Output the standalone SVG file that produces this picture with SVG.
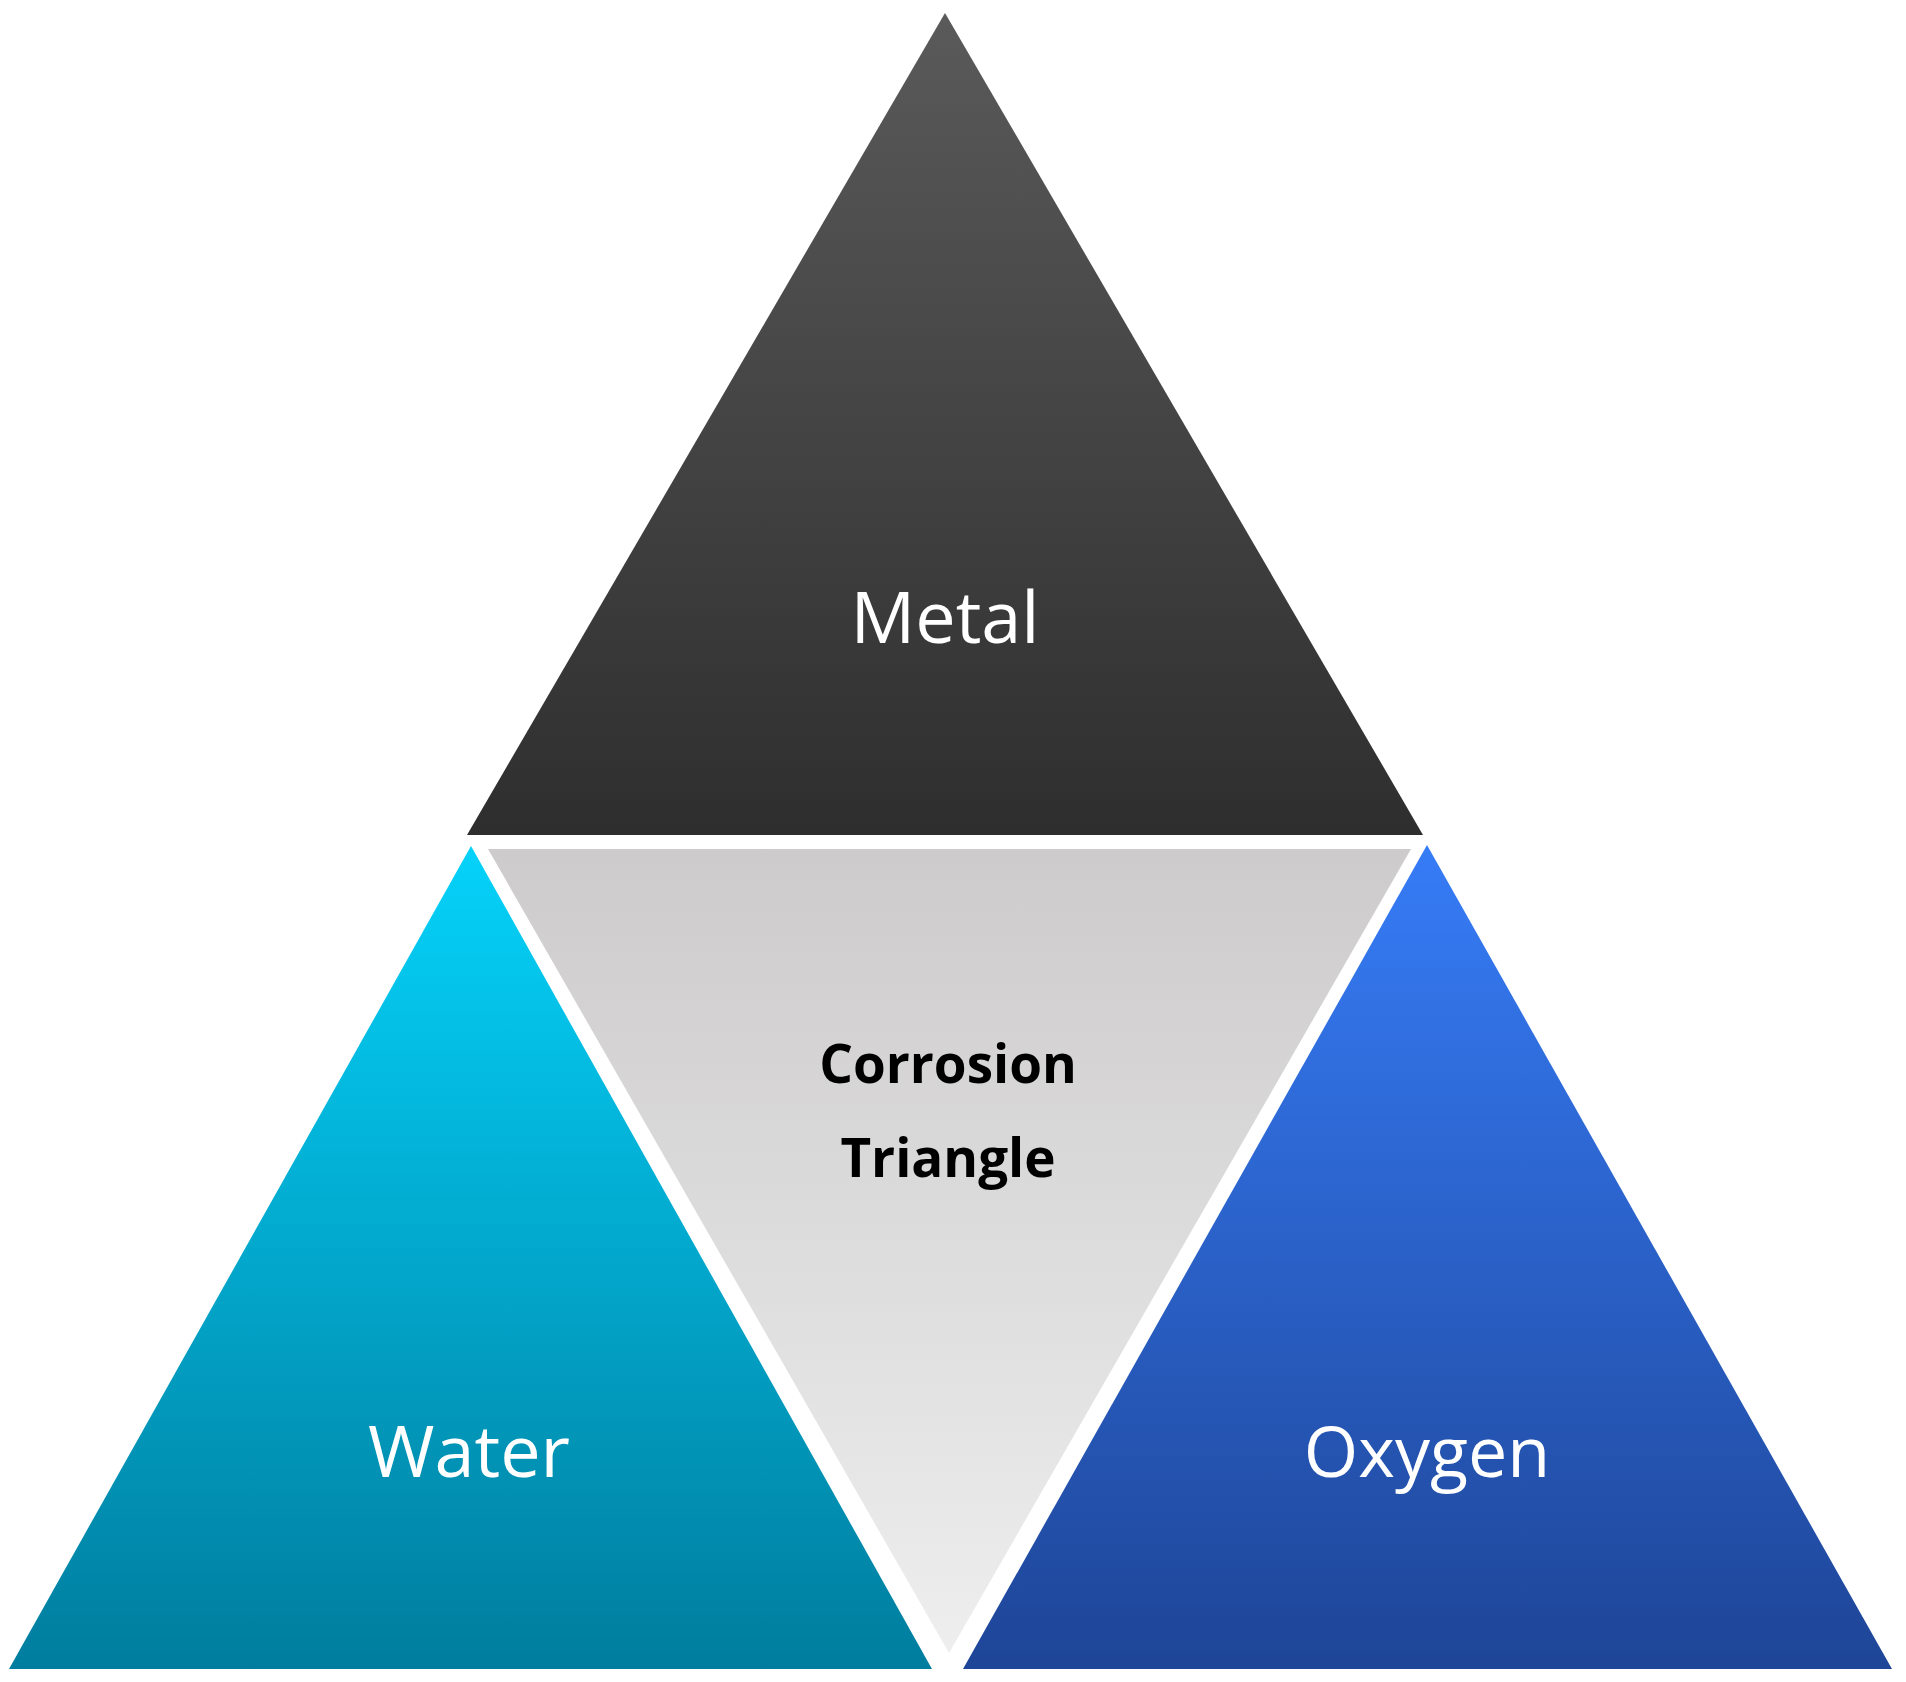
<svg xmlns="http://www.w3.org/2000/svg" width="1906" height="1682" viewBox="0 0 1906 1682">
<defs>
<linearGradient id="gMetal" x1="0" y1="0" x2="0" y2="1"><stop offset="0" stop-color="#5a5a5a"/><stop offset="1" stop-color="#2e2e2e"/></linearGradient>
<linearGradient id="gCenter" x1="0" y1="0" x2="0" y2="1"><stop offset="0" stop-color="#cdcbcb"/><stop offset="1" stop-color="#eeeeef"/></linearGradient>
<linearGradient id="gWater" x1="0" y1="0" x2="0" y2="1"><stop offset="0" stop-color="#05d2fa"/><stop offset="1" stop-color="#007d9e"/></linearGradient>
<linearGradient id="gOxygen" x1="0" y1="0" x2="0" y2="1"><stop offset="0" stop-color="#367cf7"/><stop offset="1" stop-color="#1e4597"/></linearGradient>
<style>
.lbl{font-family:"Open Sans","Noto Sans",sans-serif;font-size:72px;fill:#ffffff;text-anchor:middle}
.ctr{font-family:"Open Sans","Noto Sans",sans-serif;font-size:53px;font-weight:bold;fill:#000000;text-anchor:middle}
</style>
</defs>
<rect width="1906" height="1682" fill="#ffffff"/>
<g id="metal">
<polygon points="945,13 467,835 1423,835" fill="url(#gMetal)"/>
<text class="lbl" x="945" y="643">Metal</text>
</g>
<g id="water">
<polygon points="471,846 9,1669 932,1669" fill="url(#gWater)"/>
<text class="lbl" x="469" y="1477">Water</text>
</g>
<g id="oxygen">
<polygon points="1427,845 963,1669 1892,1669" fill="url(#gOxygen)"/>
<text class="lbl" x="1427" y="1477" style="font-size:70px">Oxygen</text>
</g>
<g id="corrosion-triangle">
<polygon points="488,849 1411,849 949,1653" fill="url(#gCenter)"/>
<text class="ctr" x="948" y="1083">Corrosion</text>
<text class="ctr" x="948" y="1177">Triangle</text>
</g>
</svg>
